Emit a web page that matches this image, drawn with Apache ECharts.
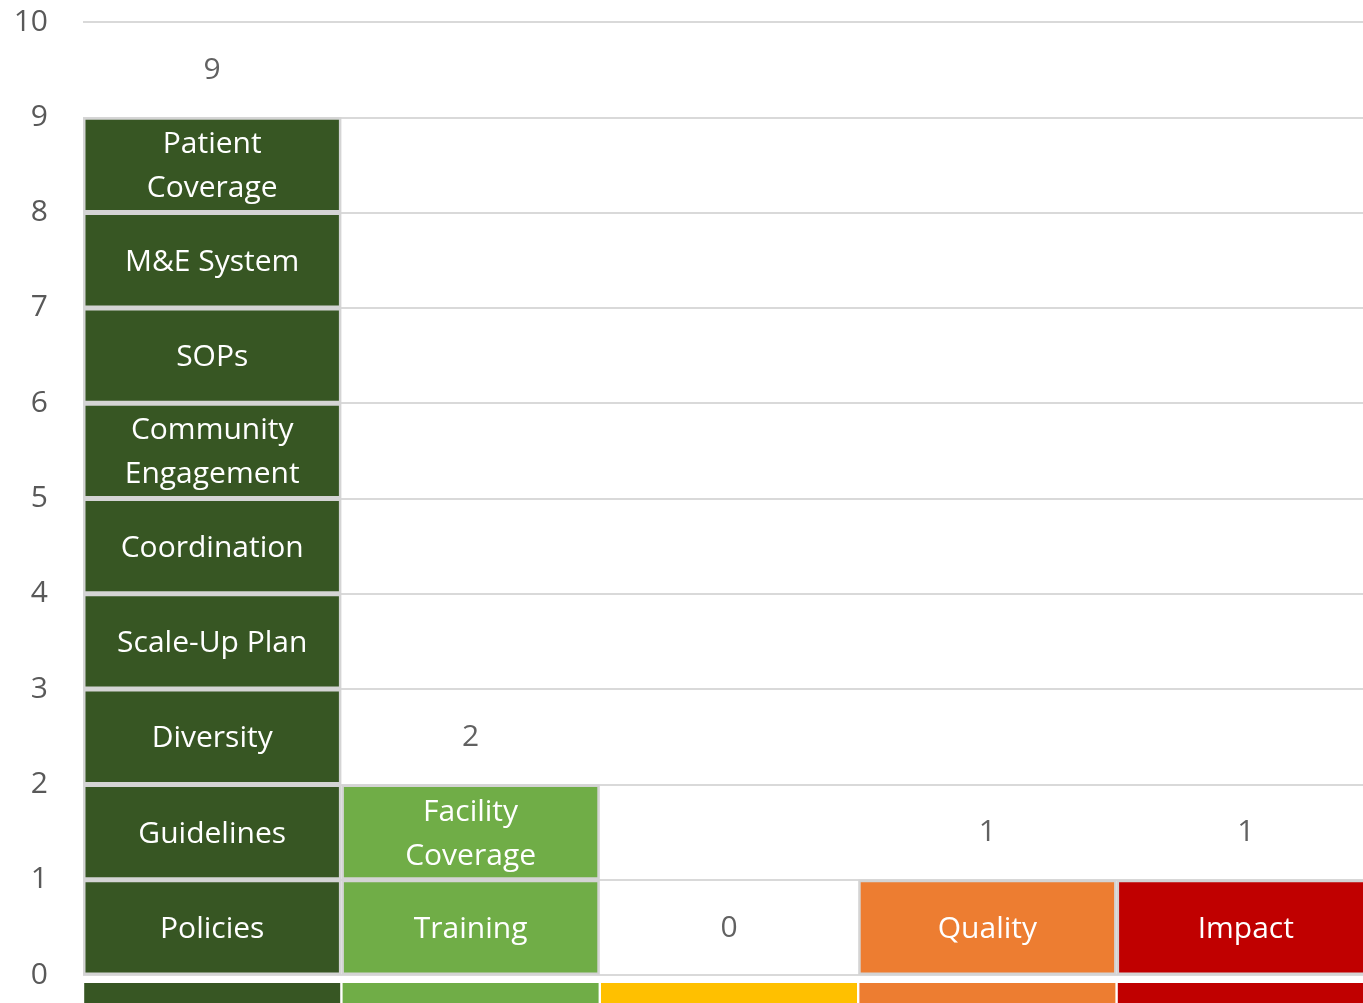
<!DOCTYPE html>
<html>
<head>
<meta charset="utf-8">
<script src="https://cdn.jsdelivr.net/npm/echarts@6/dist/echarts.min.js"></script>
<style>
  html, body { margin: 0; padding: 0; background: #fff; overflow: hidden; }
  #main { width: 1363px; height: 1003px; }
</style>
</head>
<body>
<div id="main"></div>
<script>
// columns (left to right) and the blocks stacked in each, bottom first
const categories = ['Dark Green', 'Light Green', 'Yellow', 'Orange', 'Red'];
const columnColors = ['#375623', '#70AD47', '#FFC000', '#ED7D31', '#C00000'];
const darkGreenItems = ['Policies', 'Guidelines', 'Diversity', 'Scale-Up Plan', 'Coordination',
  'Community\nEngagement', 'SOPs', 'M&E System', 'Patient\nCoverage'];
const lightGreenItems = ['Training', 'Facility\nCoverage'];
const yellowItems = [];
const orangeItems = ['Quality'];
const redItems = ['Impact'];
const totals = [9, 2, 0, 1, 1];
const yTicks = [0, 1, 2, 3, 4, 5, 6, 7, 8, 9, 10];

const columns = [darkGreenItems, lightGreenItems, yellowItems, orangeItems, redItems];
const levels = Math.max.apply(null, columns.map(c => c.length));

const FONT = '"Open Sans", "Noto Sans", sans-serif';
const FS = 30;

// one stacked series per level, each block counts 1
let series = [];
for (let lv = 0; lv < levels; lv++) {
  series.push({
    type: 'bar',
    stack: 'blocks',
    barCategoryGap: 0,
    barGap: 0,
    data: columns.map(function (items, ci) {
      if (lv >= items.length) return '-';
      return {
        value: 1,
        name: items[lv],
        itemStyle: { color: columnColors[ci] }
      };
    }),
    itemStyle: { borderColor: '#d4d4d4', borderWidth: 2.5 },
    label: {
      show: true,
      position: 'inside',
      offset: [0, 2],
      formatter: function (p) { return p.data.name; },
      color: '#fff',
      fontFamily: FONT,
      fontSize: FS,
      lineHeight: 44
    },
    emphasis: { disabled: true },
    silent: true
  });
}

// totals above each column
series.push({
  type: 'scatter',
  data: totals,
  symbol: 'circle',
  symbolSize: 2,
  itemStyle: { color: 'rgba(0,0,0,0)' },
  label: {
    show: true,
    position: 'top',
    distance: 31,
    color: '#3a3a3a',
    fontFamily: FONT,
    fontSize: FS
  },
  emphasis: { disabled: true },
  silent: true
});

let rich = {};
columnColors.forEach(function (c, i) {
  rich['c' + i] = { width: 256, height: 40, backgroundColor: c };
});

const myChart = echarts.init(document.getElementById('main'));
myChart.setOption({
  animation: false,
  grid: { left: 83, right: -12, top: 22, bottom: 28, containLabel: false, outerBoundsMode: 'none' },
  xAxis: {
    type: 'category',
    data: categories,
    axisLine: { show: false },
    axisTick: { show: false },
    axisLabel: {
      interval: 0,
      margin: 8,
      formatter: function (v, i) { return '{c' + i + '|}'; },
      rich: rich
    }
  },
  yAxis: {
    type: 'value',
    min: yTicks[0],
    max: yTicks[yTicks.length - 1],
    interval: 1,
    axisLine: { show: false },
    axisTick: { show: false },
    axisLabel: {
      margin: 35,
      color: '#595959',
      fontFamily: FONT,
      fontSize: FS
    },
    splitLine: { lineStyle: { color: '#d9d9d9', width: 2 } }
  },
  series: series
});
</script>
</body>
</html>
